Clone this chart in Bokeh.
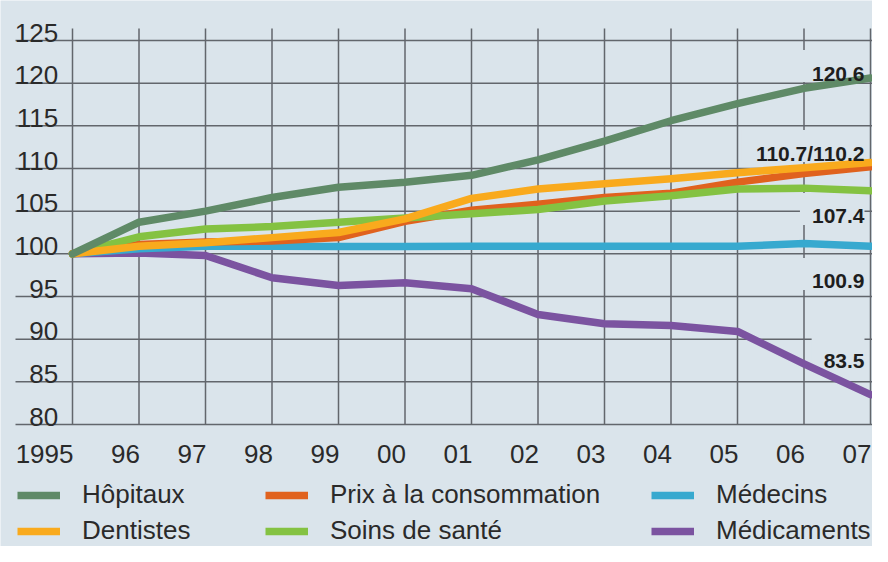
import math
from bokeh.plotting import figure
from bokeh.models import Range1d, Legend, LegendItem, ColumnDataSource
from bokeh.core.properties import value
from bokeh.embed import file_html
from bokeh.resources import INLINE

# ---------------- data ----------------
year_labels = ["1995", "96", "97", "98", "99", "00", "01", "02", "03", "04", "05", "06", "07"]
y_ticks = [80, 85, 90, 95, 100, 105, 110, 115, 120, 125]

hopitaux    = [100, 103.7, 105.0, 106.6, 107.8, 108.4, 109.2, 111.0, 113.2, 115.6, 117.6, 119.4, 120.6]
prix        = [100, 101.1, 101.4, 101.5, 101.9, 103.8, 105.1, 105.8, 106.6, 107.1, 108.4, 109.4, 110.2]
medecins    = [100, 100.6, 100.9, 100.9, 100.85, 100.85, 100.9, 100.9, 100.9, 100.9, 100.9, 101.2, 100.9]
dentistes   = [100, 100.9, 101.3, 101.9, 102.5, 104.1, 106.5, 107.6, 108.2, 108.8, 109.5, 110.1, 110.7]
soins       = [100, 102.0, 102.9, 103.2, 103.7, 104.2, 104.7, 105.2, 106.2, 106.8, 107.6, 107.7, 107.4]
medicaments = [100, 100.1, 99.8, 97.2, 96.3, 96.6, 95.9, 92.9, 91.8, 91.6, 90.9, 87.1, 83.5]

end_labels = ["120.6", "110.7/110.2", "107.4", "100.9", "83.5"]
end_values = [120.6, 110.7, 107.4, 100.9, 83.5]

series_names = ["Hôpitaux", "Prix à la consommation", "Médecins",
                "Dentistes", "Soins de santé", "Médicaments"]

# ---------------- styles ----------------
BG = "#dae4eb"
GRID = "#62666c"
TXT = "#2a2a2a"
FONT = "Liberation Sans"
colors = {
    "Hôpitaux": "#5f8a67",
    "Prix à la consommation": "#e0621e",
    "Médecins": "#37a9cf",
    "Dentistes": "#f9aa1d",
    "Soins de santé": "#84c242",
    "Médicaments": "#7b53a0",
}
values = {
    "Hôpitaux": hopitaux,
    "Prix à la consommation": prix,
    "Médecins": medecins,
    "Dentistes": dentistes,
    "Soins de santé": soins,
    "Médicaments": medicaments,
}

W, H = 872, 546
LEFT = 72          # px of the first year line
TOP125 = 40        # px of the 125 line
PX = (W - 2 - LEFT) / 12.0   # pixels per year
PY = 384 / 45.0              # pixels per index point
x0 = -LEFT / PX
y_top = 125 + TOP125 / PY

p = figure(width=W, height=H,
           x_range=Range1d(x0, x0 + W / PX),
           y_range=Range1d(y_top - H / PY, y_top),
           output_backend="svg", toolbar_location=None,
           x_axis_location=None, y_axis_location=None,
           min_border=0)
p.grid.visible = False
p.outline_line_color = None
p.background_fill_color = BG
p.border_fill_color = BG

idx = list(range(len(year_labels)))
last = idx[-1]

# grid lines
p.segment(x0=[-57 / PX] * len(y_ticks), y0=y_ticks,
          x1=[13] * len(y_ticks), y1=y_ticks,
          line_color=GRID, line_width=1.5)
p.segment(x0=idx, y0=[80] * len(idx), x1=idx, y1=[125 + 12 / PY] * len(idx),
          line_color=GRID, line_width=1.5)

# end labels: background boxes hiding the grid
LAB_FS = 21
PAD = 6
label_up = [4.5, 9, -25.8, -35.3, 34.1]          # baseline shift in px (up)
def text_w(s):
    return sum(0.556 if c.isdigit() else 0.278 for c in s) * LAB_FS
box_w = [text_w(t) + 2 * PAD for t in end_labels]
box_h = [32] * len(end_labels)
box_x = [last - (PAD + 0.5 * text_w(t) + 6) / PX for t in end_labels]
box_y = [v + (u + 7.5) / PY for v, u in zip(end_values, label_up)]
p.rect(x=box_x, y=box_y, width=box_w, height=box_h,
       width_units="screen", height_units="screen",
       fill_color=BG, line_color=None)

# y tick labels (above their line)
p.text(x=[-14.3 / PX] * len(y_ticks), y=y_ticks, text=[str(t) for t in y_ticks],
       text_align="right", text_baseline="alphabetic", y_offset=-8,
       text_font=value(FONT), text_font_size="26px", text_color=TXT)

# x tick labels (right aligned to their line)
p.text(x=idx, y=[80] * len(idx), text=year_labels,
       text_align="right", text_baseline="alphabetic", y_offset=29, x_offset=1,
       text_font=value(FONT), text_font_size="26px", text_color=TXT)

# data lines
draw_order = ["Médicaments", "Médecins", "Prix à la consommation",
              "Soins de santé", "Dentistes", "Hôpitaux"]
for name in draw_order:
    p.line(x=idx, y=values[name], line_color=colors[name], line_width=7.5,
           line_cap="round", line_join="round")

# end label texts on top
src_lab = ColumnDataSource(dict(x=[last] * len(end_labels), y=end_values,
                                text=end_labels, dy=[-u for u in label_up]))
p.text(x="x", y="y", text="text", y_offset="dy", x_offset=-6, source=src_lab,
       text_align="right", text_baseline="alphabetic",
       text_font=value(FONT), text_font_style="bold", text_font_size=f"{LAB_FS}px",
       text_color="#1e1e1e")

# legend proxies (square-ended swatches)
proxies = {}
for name in series_names:
    proxies[name] = p.line(x=[math.nan], y=[math.nan], line_color=colors[name],
                           line_width=7.5, line_cap="butt")

cols = [["Hôpitaux", "Dentistes"],
        ["Prix à la consommation", "Soins de santé"],
        ["Médecins", "Médicaments"]]
col_x = [17, 265, 651]
for cx, names in zip(col_x, cols):
    leg = Legend(items=[LegendItem(label=n, renderers=[proxies[n]]) for n in names],
                 location=(cx, 0), orientation="vertical",
                 glyph_width=43, glyph_height=26, label_height=26,
                 label_standoff=22, spacing=5, padding=0, margin=0,
                 background_fill_alpha=0, border_line_alpha=0,
                 label_text_font=FONT, label_text_font_size="26px",
                 label_text_color=TXT, label_text_baseline="middle")
    p.add_layout(leg)

open("out.html", "w").write(file_html(p, INLINE))
